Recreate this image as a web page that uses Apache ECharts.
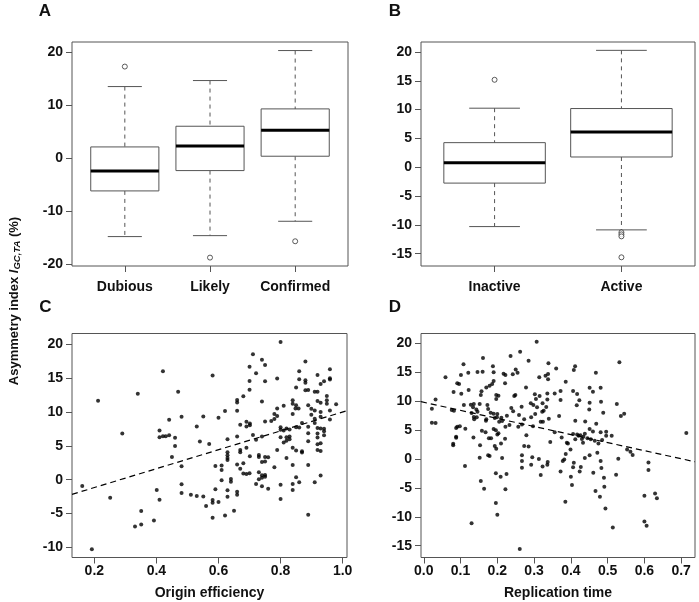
<!DOCTYPE html>
<html><head><meta charset="utf-8">
<script src="https://cdn.jsdelivr.net/npm/echarts@6/dist/echarts.min.js"></script>
<style>html,body{margin:0;padding:0;background:#fff}#c{width:699px;height:602px}</style>
</head><body><div id="c"></div>
<script>
// ---------- data ----------
const catsA = ['Dubious', 'Likely', 'Confirmed'];
// [lower whisker, Q1, median, Q3, upper whisker]
const boxA = [
  [-14.73, -6.14, -2.38, 2.13, 13.48],
  [-14.55, -2.32, 2.32, 6.02, 14.61],
  [-11.85, 0.38, 5.27, 9.28, 20.25]
];
const outA = [[1, 17.24], [2, -18.68], [3, -15.61]];

const catsB = ['Inactive', 'Active'];
const boxB = [
  [-10.3, -2.75, 0.79, 4.27, 10.25],
  [-10.87, 1.78, 6.13, 10.19, 20.29]
];
const outB = [[1, 15.18], [2, -11.3], [2, -11.65], [2, -12.0], [2, -15.63]];

const ticksAY = [-20, -10, 0, 10, 20];
const ticksBY = [-15, -10, -5, 0, 5, 10, 15, 20];
const ticksCX = [0.2, 0.4, 0.6, 0.8, 1.0];
const ticksCY = [-10, -5, 0, 5, 10, 15, 20];
const ticksDX = [0, 0.1, 0.2, 0.3, 0.4, 0.5, 0.6, 0.7];
const ticksDY = [-15, -10, -5, 0, 5, 10, 15, 20];

// Origin efficiency vs asymmetry index
const pointsC = [
  [0.161,-0.93],[0.212,11.67],[0.192,-10.29],[0.251,-2.67],[0.290,6.83],[0.340,12.71],[0.421,16.02],
  [0.351,-4.64],[0.331,-6.92],[0.351,-6.63],[0.392,-6.03],[0.401,-1.53],[0.410,-2.96],[0.410,7.27],
  [0.410,6.28],[0.421,6.43],[0.430,6.43],[0.441,6.58],[0.441,8.86],[0.460,6.18],[0.460,4.99],[0.450,3.36],
  [0.470,13.0],[0.481,9.3],[0.481,1.98],[0.481,-0.69],[0.481,-1.97],[0.511,-2.22],[0.530,-2.42],
  [0.551,-2.47],[0.560,-3.9],[0.530,7.86],[0.551,9.35],[0.540,5.64],[0.570,5.29],
  [0.800,20.33],[0.711,18.55],[0.740,17.71],[0.750,16.96],[0.700,16.67],[0.581,15.38],[0.721,15.73],
  [0.700,14.59],[0.750,14.54],[0.789,14.94],[0.700,13.3],[0.880,17.46],[0.860,16.02],[0.959,16.31],
  [0.860,14.84],[0.880,14.69],[0.880,14.34],[0.919,15.48],[0.959,14.99],[0.959,14.79],[0.940,14.54],
  [0.929,14.15],[0.850,13.61],[0.880,13.21],[0.889,13.26],[0.910,13.01],[0.919,13.01],[0.949,12.36],
  [0.979,11.13],[0.949,11.72],[0.949,11.23],[0.929,11.37],[0.919,11.62],[0.839,11.72],[0.839,11.23],
  [0.850,10.98],[0.848,10.5],[0.858,10.5],[0.889,10.98],[0.899,10.49],[0.910,10.24],[0.929,9.99],
  [0.959,10.24],[0.959,8.9],[0.929,9.3],[0.910,9.0],[0.899,9.6],[0.910,8.36],[0.889,7.82],[0.869,8.36],
  [0.860,7.72],[0.839,9.7],[0.810,10.93],[0.789,10.53],[0.780,9.7],[0.789,9.4],[0.780,8.95],[0.770,8.66],
  [0.750,8.61],[0.740,11.57],[0.680,12.32],[0.660,11.77],[0.660,11.42],[0.660,10.19],[0.621,10.14],
  [0.600,9.15],[0.690,8.56],[0.701,8.3],[0.670,8.12],[0.690,7.86],[0.701,8.06],[0.711,6.6],[0.721,5.89],
  [0.740,6.38],[0.660,6.38],[0.629,5.99],[0.800,7.76],[0.800,7.37],[0.810,7.27],[0.819,7.57],[0.829,7.42],
  [0.829,6.38],[0.819,6.28],[0.800,6.28],[0.810,5.49],[0.829,5.98],[0.819,5.74],[0.850,7.76],[0.889,6.87],
  [0.889,5.69],[0.919,7.62],[0.919,6.82],[0.929,7.57],[0.940,7.52],[0.940,7.17],[0.940,6.58],[0.919,6.23],
  [0.919,5.24],[0.929,5.39],[0.919,4.4],[0.929,4.25],[0.929,0.6],[0.910,-0.39],[0.889,2.18],[0.889,-5.19],
  [0.839,4.7],[0.850,4.3],[0.869,4.0],[0.869,4.2],[0.839,2.18],[0.850,0.35],[0.860,-0.39],[0.839,-0.64],
  [0.839,-1.53],[0.819,3.22],[0.800,-0.74],[0.800,-2.87],[0.780,1.83],[0.789,4.4],[0.760,3.32],[0.740,2.62],
  [0.750,3.36],[0.750,2.67],[0.730,3.66],[0.730,3.36],[0.730,1.09],[0.740,0.64],[0.750,0.69],[0.750,0.45],
  [0.740,0.3],[0.730,0.05],[0.721,-0.64],[0.740,-0.99],[0.760,-1.34],[0.701,3.46],[0.690,4.7],[0.700,0.94],
  [0.690,0.84],[0.680,2.43],[0.670,4.06],[0.670,4.4],[0.660,2.23],[0.670,1.6],[0.680,0.9],[0.660,-1.78],
  [0.660,-2.22],[0.650,-4.6],[0.629,4.06],[0.629,3.61],[0.629,3.22],[0.629,2.92],[0.640,0.1],[0.640,-0.29],
  [0.629,-1.58],[0.629,-2.52],[0.621,-5.29],[0.610,2.08],[0.610,1.44],[0.610,-0.1],[0.590,2.03],
  [0.590,-1.43],[0.600,-3.31],[0.581,-3.0],[0.581,-3.41],[0.581,-5.64]
];
// Replication time vs asymmetry index
const pointsD = [
  [0.022,8.72],[0.032,10.33],[0.022,6.29],[0.032,6.24],[0.307,20.32],[0.161,17.49],[0.236,17.84],
  [0.262,18.59],[0.285,17.03],[0.108,16.4],[0.188,16.05],[0.25,15.5],[0.339,16.57],[0.059,14.15],
  [0.101,14.55],[0.121,14.95],[0.146,15.07],[0.16,15.13],[0.19,15.01],[0.217,14.78],[0.222,14.55],
  [0.242,14.67],[0.255,14.95],[0.314,14.15],[0.331,14.43],[0.338,14.72],[0.338,13.8],[0.36,15.7],
  [0.091,13.11],[0.096,12.99],[0.081,11.6],[0.102,11.32],[0.122,11.95],[0.155,11.09],[0.157,11.72],
  [0.179,12.7],[0.19,13.51],[0.17,12.41],[0.186,12.99],[0.221,13.11],[0.197,11.09],[0.203,10.97],
  [0.197,10.39],[0.246,10.91],[0.249,11.09],[0.278,12.41],[0.302,11.2],[0.305,10.39],[0.315,10.91],
  [0.336,11.37],[0.336,10.33],[0.356,11.37],[0.333,9.0],[0.308,8.95],[0.298,9.35],[0.291,9.64],
  [0.323,9.64],[0.326,8.37],[0.322,8.2],[0.076,8.49],[0.082,8.37],[0.109,9.35],[0.128,9.41],[0.136,9.53],
  [0.152,9.53],[0.134,8.95],[0.143,8.6],[0.146,8.2],[0.130,7.97],[0.136,7.27],[0.137,6.87],[0.144,7.22],
  [0.173,9.35],[0.175,8.66],[0.182,8.03],[0.190,7.85],[0.2,7.79],[0.199,7.22],[0.211,7.16],[0.170,6.87],
  [0.169,6.64],[0.193,7.1],[0.205,6.47],[0.213,6.58],[0.226,7.51],[0.238,8.83],[0.243,8.26],[0.259,7.62],
  [0.266,9.06],[0.273,6.87],[0.292,7.22],[0.303,7.79],[0.34,6.99],[0.318,6.47],[0.324,6.47],[0.368,7.45],
  [0.091,5.6],[0.098,5.66],[0.088,5.37],[0.113,5.25],[0.135,3.75],[0.153,2.37],[0.158,4.91],[0.168,4.62],
  [0.177,3.58],[0.183,3.58],[0.19,5.2],[0.196,4.97],[0.2,4.27],[0.203,4.45],[0.21,2.71],[0.193,2.25],
  [0.197,1.79],[0.221,3.52],[0.222,5.6],[0.233,5.89],[0.257,5.6],[0.267,6.0],[0.279,4.1],[0.297,5.66],
  [0.344,2.94],[0.08,2.66],[0.08,2.37],[0.088,3.87],[0.088,3.7],[0.152,0.23],[0.175,0.64],[0.179,0.52],
  [0.213,0.17],[0.267,0.64],[0.267,-0.35],[0.267,-1.5],[0.273,2.25],[0.285,2.19],[0.295,0.29],
  [0.292,-0.98],[0.313,0.0],[0.318,-2.77],[0.337,-0.52],[0.336,-0.98],[0.323,-1.3],[0.112,-1.21],
  [0.155,-3.81],[0.164,-5.14],[0.196,-2.48],[0.209,-3.06],[0.225,-2.6],[0.222,-5.25],[0.196,-7.62],
  [0.2,-9.64],[0.13,-11.14],[0.261,-15.59],[0.372,-2.14],
  [0.532,16.74],[0.4115,16.05],[0.408,15.42],[0.468,14.95],[0.386,13.4],[0.372,11.78],[0.406,11.78],
  [0.417,11.26],[0.451,12.36],[0.46,11.66],[0.481,12.36],[0.372,10.22],[0.423,10.16],[0.451,9.76],
  [0.482,9.93],[0.416,9.3],[0.45,8.6],[0.488,8.03],[0.525,9.53],[0.536,7.45],[0.545,7.85],[0.412,6.64],
  [0.439,6.52],[0.469,6.12],[0.451,5.2],[0.481,4.62],[0.496,4.73],[0.496,4.04],[0.511,4.04],[0.46,4.79],
  [0.445,3.58],[0.454,3.41],[0.465,3.18],[0.475,2.71],[0.485,3.29],[0.356,4.62],[0.375,3.75],[0.389,2.83],
  [0.392,2.71],[0.399,1.67],[0.386,0.87],[0.382,-0.06],[0.378,-0.35],[0.406,4.33],[0.412,3.41],
  [0.417,4.27],[0.421,4.04],[0.426,4.1],[0.43,3.46],[0.434,3.87],[0.438,4.39],[0.433,2.83],[0.408,-0.64],
  [0.406,-1.44],[0.4,-3.06],[0.403,-4.5],[0.424,-2.14],[0.427,-1.39],[0.438,0.17],[0.451,0.64],
  [0.461,-2.37],[0.472,1.1],[0.481,-0.35],[0.483,-1.56],[0.49,-3.23],[0.491,-4.79],[0.467,-5.54],
  [0.479,-6.52],[0.494,-8.55],[0.514,-11.84],[0.523,-2.71],[0.529,0.06],[0.553,1.67],[0.562,1.27],
  [0.568,0.69],[0.385,-7.39],[0.611,-0.58],[0.611,-1.91],[0.6,-6.35],[0.629,-5.95],[0.634,-6.81],
  [0.6,-10.8],[0.606,-11.55],[0.714,4.5]
];
// dashed regression lines, endpoints read at the frame edges
const fitC = [[0.128, -2.17], [1.014, 10.2]];
const fitD = [[-0.0076, 9.93], [0.7376, -0.47]];

// ---------- chart ----------
const FONT = '"Liberation Sans", Arial, Helvetica, sans-serif';
const INK = '#111';
const GREY = '#555';

function xAxisOf(grid, min, max, ticks, fmt, margin, name) {
  return {
    type: 'value', gridIndex: grid, min: min, max: max,
    axisLine: { show: false, onZero: false }, splitLine: { show: false },
    axisTick: { show: true, length: 6, customValues: ticks, lineStyle: { color: GREY } },
    axisLabel: { customValues: ticks, formatter: fmt, margin: margin, color: INK,
      fontSize: 14, fontWeight: 'bold', fontFamily: FONT },
    name: name || '', nameLocation: 'middle', nameGap: 29,
    nameTextStyle: { color: INK, fontSize: 14, fontWeight: 'bold', fontFamily: FONT }
  };
}
function yAxisOf(grid, min, max, ticks) {
  return {
    type: 'value', gridIndex: grid, min: min, max: max,
    axisLine: { show: false, onZero: false }, splitLine: { show: false },
    axisTick: { show: true, length: 6, customValues: ticks, lineStyle: { color: GREY } },
    axisLabel: { customValues: ticks, margin: 9, color: INK,
      fontSize: 14, fontWeight: 'bold', fontFamily: FONT }
  };
}
function renderBox(params, api) {
  const x = api.value(0);
  const lo = api.coord([x, api.value(1)]);
  const q1 = api.coord([x, api.value(2)]);
  const md = api.coord([x, api.value(3)]);
  const q3 = api.coord([x, api.value(4)]);
  const hi = api.coord([x, api.value(5)]);
  const hw = api.size([0.4, 0])[0];
  const sw = hw / 2;
  const cx = md[0];
  const dash = { stroke: GREY, lineWidth: 1, lineDash: [4, 4] };
  const solid = { stroke: GREY, lineWidth: 1 };
  return { type: 'group', children: [
    { type: 'line', shape: { x1: cx, y1: hi[1], x2: cx, y2: q3[1] }, style: dash },
    { type: 'line', shape: { x1: cx, y1: q1[1], x2: cx, y2: lo[1] }, style: dash },
    { type: 'line', shape: { x1: cx - sw, y1: hi[1], x2: cx + sw, y2: hi[1] }, style: solid },
    { type: 'line', shape: { x1: cx - sw, y1: lo[1], x2: cx + sw, y2: lo[1] }, style: solid },
    { type: 'rect', shape: { x: cx - hw, y: q3[1], width: 2 * hw, height: q1[1] - q3[1] },
      style: { fill: '#fff', stroke: GREY, lineWidth: 1 } },
    { type: 'line', shape: { x1: cx - hw, y1: md[1], x2: cx + hw, y2: md[1] },
      style: { stroke: '#000', lineWidth: 3 } }
  ]};
}
const gridBase = { show: true, borderColor: GREY, borderWidth: 1, backgroundColor: 'transparent' };
const letter = (t, x, y) => ({ type: 'text', x: x, y: y,
  style: { text: t, fill: INK, font: 'bold 17px ' + FONT, align: 'center', verticalAlign: 'middle' } });

const chart = echarts.init(document.getElementById('c'), null, { renderer: 'canvas' });
chart.setOption({
  animation: false,
  backgroundColor: '#fff',
  grid: [
    Object.assign({ left: 72, top: 42, width: 276, height: 224 }, gridBase),
    Object.assign({ left: 421, top: 42, width: 274, height: 224 }, gridBase),
    Object.assign({ left: 72, top: 333.5, width: 275, height: 224 }, gridBase),
    Object.assign({ left: 421, top: 333.5, width: 274, height: 224 }, gridBase)
  ],
  xAxis: [
    xAxisOf(0, 0.38, 3.62, [1, 2, 3], v => catsA[Math.round(v) - 1] || '', 14.5),
    xAxisOf(1, 0.42, 2.58, [1, 2], v => catsB[Math.round(v) - 1] || '', 14.5),
    xAxisOf(2, 0.128, 1.014, ticksCX, v => v.toFixed(1), 7, 'Origin efficiency'),
    xAxisOf(3, -0.0076, 0.7376, ticksDX, v => v.toFixed(1), 7, 'Replication time')
  ],
  yAxis: [
    yAxisOf(0, -20.26, 21.86, ticksAY),
    yAxisOf(1, -17.14, 21.74, ticksBY),
    yAxisOf(2, -11.5, 21.6, ticksCY),
    yAxisOf(3, -17.05, 21.74, ticksDY)
  ],
  series: [
    { type: 'custom', xAxisIndex: 0, yAxisIndex: 0, renderItem: renderBox,
      encode: { x: 0, y: [1, 2, 3, 4, 5] }, data: boxA.map((d, i) => [i + 1].concat(d)) },
    { type: 'scatter', xAxisIndex: 0, yAxisIndex: 0, data: outA, symbol: 'circle', symbolSize: 5,
      itemStyle: { color: '#fff', borderColor: '#333', borderWidth: 1 } },
    { type: 'custom', xAxisIndex: 1, yAxisIndex: 1, renderItem: renderBox,
      encode: { x: 0, y: [1, 2, 3, 4, 5] }, data: boxB.map((d, i) => [i + 1].concat(d)) },
    { type: 'scatter', xAxisIndex: 1, yAxisIndex: 1, data: outB, symbol: 'circle', symbolSize: 5,
      itemStyle: { color: '#fff', borderColor: '#333', borderWidth: 1 } },
    { type: 'scatter', xAxisIndex: 2, yAxisIndex: 2, data: pointsC, symbolSize: 4,
      itemStyle: { color: '#000' } },
    { type: 'line', xAxisIndex: 2, yAxisIndex: 2, data: fitC, symbol: 'none',
      lineStyle: { color: '#000', width: 1.2, type: [6, 4] } },
    { type: 'scatter', xAxisIndex: 3, yAxisIndex: 3, data: pointsD, symbolSize: 4,
      itemStyle: { color: '#000' } },
    { type: 'line', xAxisIndex: 3, yAxisIndex: 3, data: fitD, symbol: 'none',
      lineStyle: { color: '#000', width: 1.2, type: [6, 4] } }
  ],
  graphic: [
    letter('A', 45, 11), letter('B', 395, 11), letter('C', 45.5, 307), letter('D', 395, 307),
    { type: 'text', x: 14, y: 301, rotation: Math.PI / 2,
      style: {
        text: '{b|Asymmetry index }{i|I}{s|GC,TA}{b| (%)}',
        align: 'center', verticalAlign: 'middle', fill: INK,
        rich: {
          b: { fontSize: 13, fontWeight: 'bold', fontFamily: FONT, fill: INK },
          i: { fontSize: 13, fontWeight: 'bold', fontStyle: 'italic', fontFamily: FONT, fill: INK },
          s: { fontSize: 9.5, fontWeight: 'bold', fontStyle: 'italic', fontFamily: FONT, fill: INK,
               padding: [7, 0, 0, 0], verticalAlign: 'bottom' }
        }
      } }
  ]
});
</script>
</body></html>
